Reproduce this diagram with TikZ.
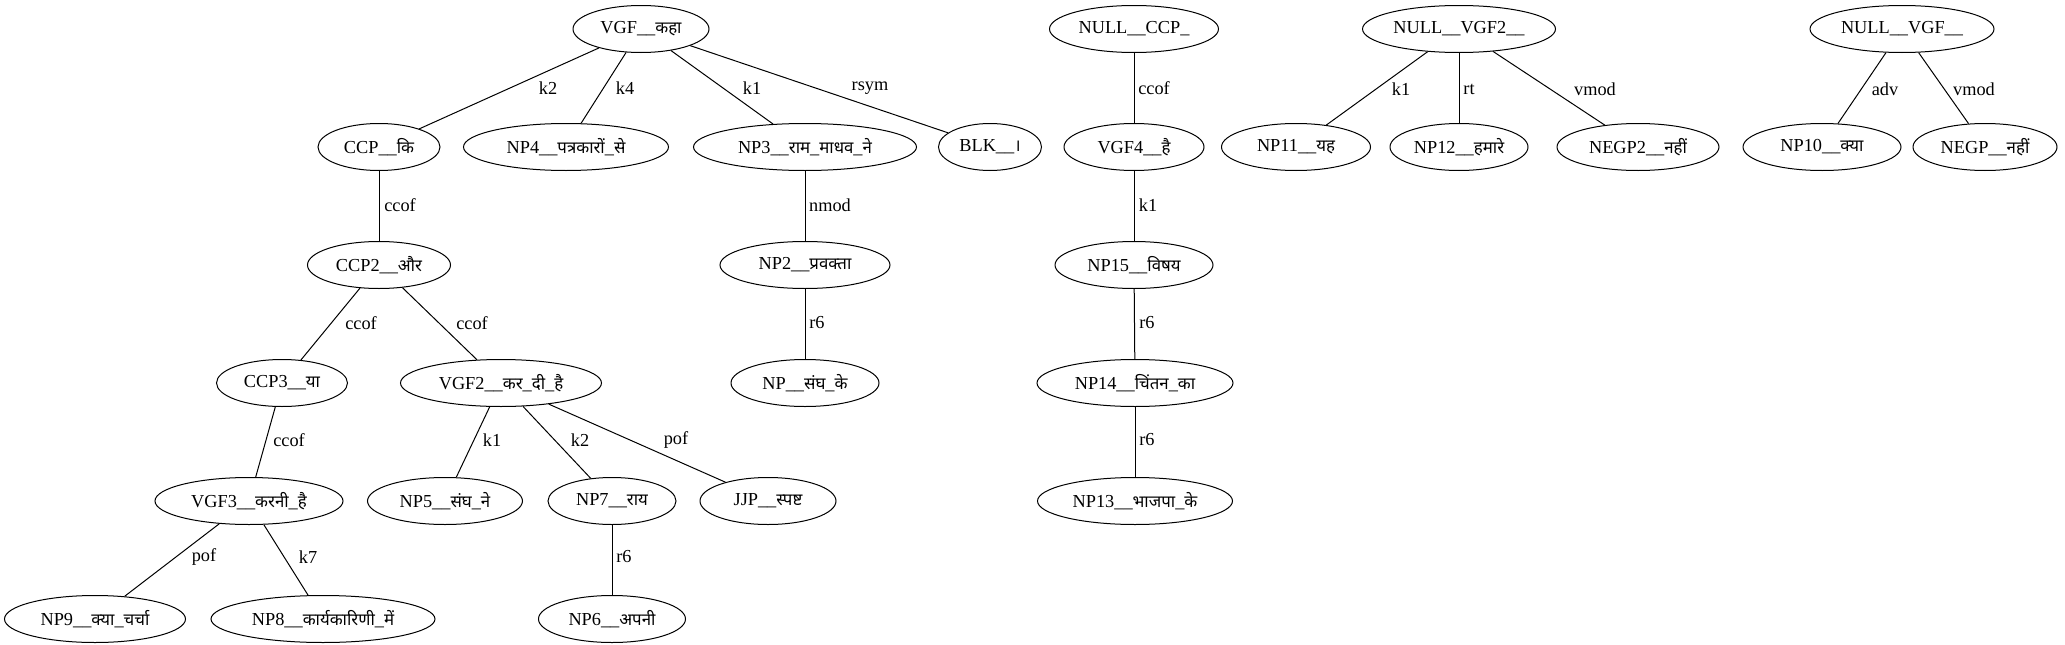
\documentclass[tikz,border=0pt]{standalone}
\usepackage{fontspec}
\setmainfont{Liberation Serif}
\newfontfamily\deva[Script=Devanagari,Scale=0.92]{Noto Sans}
\newcommand\dv[1]{{\deva #1}}
\usetikzlibrary{shapes.geometric}
\begin{document}
\begin{tikzpicture}[x=1pt,y=-1pt,
  nd/.style={draw, ellipse, line width=1pt, inner sep=0pt, minimum height=47pt, font=\fontsize{18.3}{22}\selectfont},
  lbl/.style={font=\fontsize{18.3}{22}\selectfont, inner sep=0pt, anchor=center},
  ed/.style={line width=1pt}]
\useasboundingbox (0,0) rectangle (2065,645);
% row 1
\node[nd, minimum width=136pt] (vgf) at (641,29) {VGF\_\_\dv{कहा}};
\node[nd, minimum width=169pt] (nullccp) at (1134,29) {NULL\_\_CCP\_};
\node[nd, minimum width=193pt] (nullvgftwo) at (1459,29) {NULL\_\_VGF2\_\_};
\node[nd, minimum width=184pt] (nullvgf) at (1902,29) {NULL\_\_VGF\_\_};
% row 2
\node[nd, minimum width=122pt] (ccp) at (379,147) {CCP\_\_\dv{कि}};
\node[nd, minimum width=205pt] (npfour) at (566,147) {NP4\_\_\dv{पत्रकारों}\_\dv{से}};
\node[nd, minimum width=223pt] (npthree) at (805,147) {NP3\_\_\dv{राम}\_\dv{माधव}\_\dv{ने}};
\node[nd, minimum width=103pt] (blk) at (990,147) {BLK\_\_\dv{।}};
\node[nd, minimum width=140pt] (vgffour) at (1134,147) {VGF4\_\_\dv{है}};
\node[nd, minimum width=149pt] (npeleven) at (1296,147) {NP11\_\_\dv{यह}};
\node[nd, minimum width=138pt] (nptwelve) at (1459,147) {NP12\_\_\dv{हमारे}};
\node[nd, minimum width=162pt] (negptwo) at (1638,147) {NEGP2\_\_\dv{नहीं}};
\node[nd, minimum width=158pt] (npten) at (1822,147) {NP10\_\_\dv{क्या}};
\node[nd, minimum width=144pt] (negp) at (1985,147) {NEGP\_\_\dv{नहीं}};
% row 3
\node[nd, minimum width=143pt] (ccptwo) at (379,265) {CCP2\_\_\dv{और}};
\node[nd, minimum width=170pt] (nptwo) at (805,265) {NP2\_\_\dv{प्रवक्ता}};
\node[nd, minimum width=158pt] (npfifteen) at (1134,265) {NP15\_\_\dv{विषय}};
% row 4
\node[nd, minimum width=131pt] (ccpthree) at (282,383) {CCP3\_\_\dv{या}};
\node[nd, minimum width=201pt] (vgftwo) at (501,383) {VGF2\_\_\dv{कर}\_\dv{दी}\_\dv{है}};
\node[nd, minimum width=148pt] (np) at (805,383) {NP\_\_\dv{संघ}\_\dv{के}};
\node[nd, minimum width=196pt] (npfourteen) at (1135,383) {NP14\_\_\dv{चिंतन}\_\dv{का}};
% row 5
\node[nd, minimum width=188pt] (vgfthree) at (249,501) {VGF3\_\_\dv{करनी}\_\dv{है}};
\node[nd, minimum width=155pt] (npfive) at (445,501) {NP5\_\_\dv{संघ}\_\dv{ने}};
\node[nd, minimum width=128pt] (npseven) at (612,501) {NP7\_\_\dv{राय}};
\node[nd, minimum width=136pt] (jjp) at (768,501) {JJP\_\_\dv{स्पष्ट}};
\node[nd, minimum width=195pt] (npthirteen) at (1135,501) {NP13\_\_\dv{भाजपा}\_\dv{के}};
% row 6
\node[nd, minimum width=181pt] (npnine) at (95,619) {NP9\_\_\dv{क्या}\_\dv{चर्चा}};
\node[nd, minimum width=224pt] (npeight) at (323,619) {NP8\_\_\dv{कार्यकारिणी}\_\dv{में}};
\node[nd, minimum width=147pt] (npsix) at (612,619) {NP6\_\_\dv{अपनी}};
% edges
\draw[ed] (vgf) -- (ccp);
\draw[ed] (vgf) -- (npfour);
\draw[ed] (vgf) -- (npthree);
\draw[ed] (vgf) -- (blk);
\draw[ed] (nullccp) -- (vgffour);
\draw[ed] (nullvgftwo) -- (npeleven);
\draw[ed] (nullvgftwo) -- (nptwelve);
\draw[ed] (nullvgftwo) -- (negptwo);
\draw[ed] (nullvgf) -- (npten);
\draw[ed] (nullvgf) -- (negp);
\draw[ed] (ccp) -- (ccptwo);
\draw[ed] (npthree) -- (nptwo);
\draw[ed] (vgffour) -- (npfifteen);
\draw[ed] (ccptwo) -- (ccpthree);
\draw[ed] (ccptwo) -- (vgftwo);
\draw[ed] (nptwo) -- (np);
\draw[ed] (npfifteen) -- (npfourteen);
\draw[ed] (ccpthree) -- (vgfthree);
\draw[ed] (vgftwo) -- (npfive);
\draw[ed] (vgftwo) -- (npseven);
\draw[ed] (vgftwo) -- (jjp);
\draw[ed] (npfourteen) -- (npthirteen);
\draw[ed] (vgfthree) -- (npnine);
\draw[ed] (vgfthree) -- (npeight);
\draw[ed] (npseven) -- (npsix);
% edge labels
\node[lbl] (l1) at (548,88) {k2};
\node[lbl] (l2) at (625,88) {k4};
\node[lbl] (l3) at (752,88) {k1};
\node[lbl] (l4) at (870,88) {rsym};
\node[lbl] (l5) at (1154,88) {ccof};
\node[lbl] (l6) at (1401,89) {k1};
\node[lbl] (l7) at (1469,89) {rt};
\node[lbl] (l8) at (1595,89) {vmod};
\node[lbl] (l9) at (1885,89) {adv};
\node[lbl] (l10) at (1974,89) {vmod};
\node[lbl] (l11) at (400,205) {ccof};
\node[lbl] (l12) at (830,205) {nmod};
\node[lbl] (l13) at (1148,205) {k1};
\node[lbl] (l14) at (361,323) {ccof};
\node[lbl] (l15) at (472,323) {ccof};
\node[lbl] (l16) at (817,323) {r6};
\node[lbl] (l17) at (1147,323) {r6};
\node[lbl] (l18) at (289,440) {ccof};
\node[lbl] (l19) at (492,440) {k1};
\node[lbl] (l20) at (580,440) {k2};
\node[lbl] (l21) at (676,440) {pof};
\node[lbl] (l22) at (1147,440) {r6};
\node[lbl] (l23) at (204,557) {pof};
\node[lbl] (l24) at (308,557) {k7};
\node[lbl] (l25) at (624,557) {r6};
\end{tikzpicture}
\end{document}
